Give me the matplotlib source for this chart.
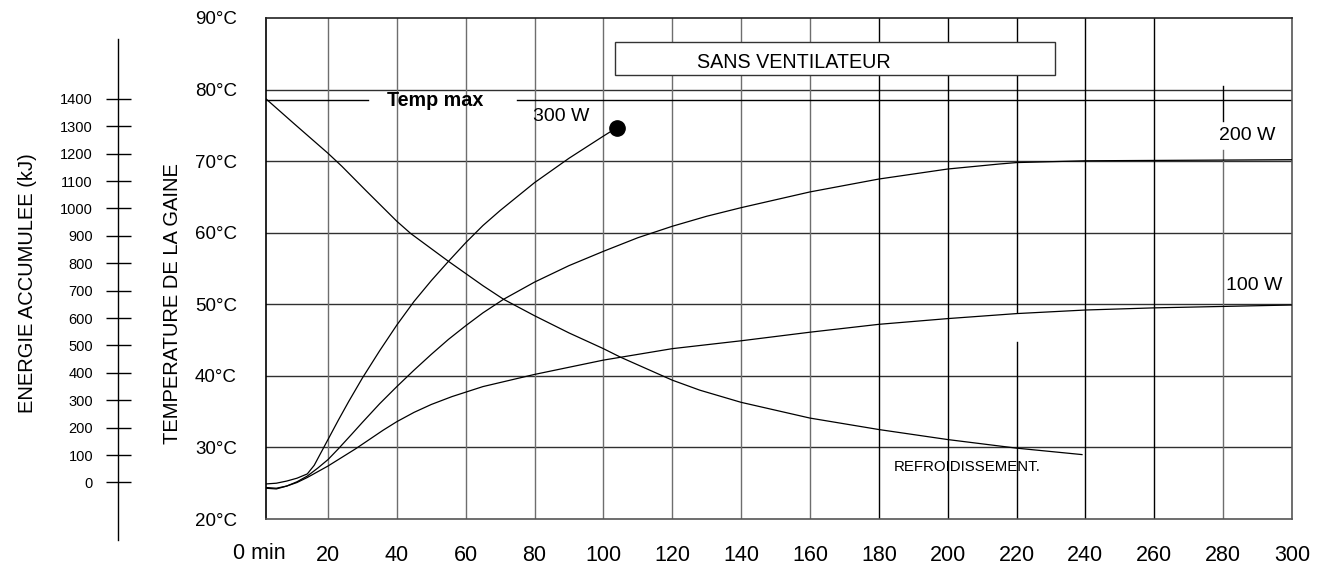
import matplotlib
matplotlib.use('Agg')
import matplotlib.pyplot as plt
from matplotlib.patches import Rectangle
import matplotlib.transforms as mtransforms

plt.rcParams['font.family'] = ['Liberation Sans', 'DejaVu Sans']

# --- data ---
time_300w = [2, 5, 8, 11, 14, 16, 18, 20, 23, 26, 30, 35, 40, 45, 50, 55, 60, 65, 70, 80, 90, 100, 104]
temp_300w = [24.9, 25.0, 25.3, 25.7, 26.3, 27.5, 29.3, 31.1, 33.8, 36.4, 39.7, 43.5, 47.1, 50.4, 53.3,
             56.0, 58.6, 61.0, 63.1, 67.0, 70.4, 73.5, 74.7]

time_200w = [2, 5, 8, 11, 14, 17, 20, 23, 27, 30, 35, 40, 45, 50, 55, 60, 65, 71, 80, 90, 100, 110,
             120, 130, 140, 160, 180, 200, 215, 220, 240, 260, 280, 300]
temp_200w = [24.4, 24.3, 24.6, 25.2, 26.0, 27.1, 28.3, 29.8, 31.9, 33.5, 36.1, 38.5, 40.8, 43.0, 45.1,
             47.0, 48.8, 50.7, 53.1, 55.4, 57.4, 59.3, 60.9, 62.3, 63.5, 65.7, 67.5, 68.9, 69.6, 69.8,
             70.05, 70.1, 70.15, 70.2]

time_100w = [2, 5, 8, 11, 14, 17, 20, 24, 28, 32, 36, 40, 45, 50, 56, 65, 80, 100, 120, 140, 160, 180,
             200, 220, 240, 260, 280, 300]
temp_100w = [24.3, 24.2, 24.6, 25.1, 25.8, 26.6, 27.4, 28.6, 29.8, 31.1, 32.4, 33.6, 34.9, 36.0, 37.1,
             38.5, 40.2, 42.2, 43.8, 44.9, 46.1, 47.2, 48.0, 48.7, 49.2, 49.5, 49.7, 49.9]

time_cool = [2, 10, 20, 24, 31, 40, 44, 55, 65, 71, 80, 90, 100, 105, 120, 128, 140, 160, 180, 200,
             215, 220, 239]
temp_cool = [78.7, 75.3, 71.1, 69.3, 65.9, 61.6, 59.9, 56.0, 52.6, 50.7, 48.4, 46.0, 43.8, 42.6, 39.4,
             38.0, 36.3, 34.1, 32.5, 31.1, 30.2, 29.9, 29.0]

x_ticks = [20, 40, 60, 80, 100, 120, 140, 160, 180, 200, 220, 240, 260, 280, 300]
y_ticks = [20, 30, 40, 50, 60, 70, 80, 90]
energy_ticks = [0, 100, 200, 300, 400, 500, 600, 700, 800, 900, 1000, 1100, 1200, 1300, 1400]

temp_max = 78.5
# energy scale calibration: 0 kJ and 1400 kJ sit at these temperatures
temp_at_0kj = 25.1
temp_at_1400kj = 78.7


def energy_of(t):
    return (t - temp_at_0kj) * 1400 / (temp_at_1400kj - temp_at_0kj)


W, H = 1317, 564
fig = plt.figure(figsize=(W / 100, H / 100), dpi=100)

ax_l, ax_r, ax_t, ax_b = 266, 1292, 18, 519
ax = fig.add_axes([ax_l / W, 1 - ax_b / H, (ax_r - ax_l) / W, (ax_b - ax_t) / H])
ax.set_xlim(2, 300)
ax.set_ylim(20, 90)

# grid: horizontal black, vertical mostly grey
for yv in y_ticks[1:-1]:
    ax.axhline(yv, color='#303030', lw=1.0, zorder=1)
black_cols = [180, 200, 240, 260]
for xv in x_ticks[:-1]:
    col = 'black' if xv in black_cols else '#6e6e6e'
    if xv == 220:
        ax.plot([xv, xv], [20, 44.8], color='black', lw=1.0, zorder=1)
        ax.plot([xv, xv], [48.9, 90], color='black', lw=1.0, zorder=1)
    elif xv == 280:
        ax.plot([xv, xv], [20, 71.5], color=col, lw=1.0, zorder=1)
        ax.plot([xv, xv], [75.6, 80.5], color='black', lw=1.0, zorder=1)
    else:
        ax.axvline(xv, color=col, lw=1.0, zorder=1)

# temp max line with gap for label
ax.plot([2, 31.6], [temp_max, temp_max], color='black', lw=1.0, zorder=2)
ax.plot([74.9, 300], [temp_max, temp_max], color='black', lw=1.0, zorder=2)
ax.text(51.2, temp_max, 'Temp max', ha='center', va='center', fontsize=14.2, fontweight='bold')

# curves
lw = 0.9
ax.plot(time_300w, temp_300w, color='black', lw=lw, zorder=3)
ax.plot(time_300w[-1], temp_300w[-1], 'o', color='black', markersize=11, zorder=4)
ax.plot(time_200w, temp_200w, color='black', lw=lw, zorder=3)
ax.plot(time_100w, temp_100w, color='black', lw=lw, zorder=3)
ax.plot(time_cool, temp_cool, color='black', lw=lw, zorder=3)

ax.text(87.7, 76.2, '300 W', ha='center', va='center', fontsize=14)
ax.text(287, 73.6, '200 W', ha='center', va='center', fontsize=14,
        bbox=dict(facecolor='white', edgecolor='none', pad=1))
ax.text(289, 52.6, '100 W', ha='center', va='center', fontsize=14)
ax.text(205.6, 27.3, 'REFROIDISSEMENT.', ha='center', va='center', fontsize=10.8)

# "SANS VENTILATEUR" box
ax.add_patch(Rectangle((103.3, 82.0), 127.8, 4.7, facecolor='white', edgecolor='#333333', lw=1.0, zorder=5))
ax.text(127.1, 83.85, 'SANS VENTILATEUR', ha='left', va='center', fontsize=14.2, zorder=6)

# axes frame and ticks
for side in ['top', 'right', 'bottom']:
    ax.spines[side].set_color('#555555')
    ax.spines[side].set_linewidth(1.2)
ax.spines['top'].set_color('#222222')
ax.spines['left'].set_color('black')
ax.spines['left'].set_linewidth(1.2)

ax.set_xticks(x_ticks)
ax.set_xticklabels([str(v) for v in x_ticks])
ax.set_yticks(y_ticks)
ax.set_yticklabels([f'{v}°C' for v in y_ticks])
ax.tick_params(axis='both', length=0)
ax.tick_params(axis='x', pad=19, labelsize=15.5)
ax.tick_params(axis='y', pad=21, labelsize=13.5)
ax.text(0, -0.068, '0 min', transform=mtransforms.blended_transform_factory(ax.transData, ax.transAxes),
        ha='center', va='center', fontsize=15.5, clip_on=False)

# energy axis on the far left
ppc = (ax_b - ax_t) / 70.0
e_top_t, e_bot_t = 87.0, 17.1
e_top_px = ax_b - (e_top_t - 20) * ppc
e_bot_px = ax_b + (20 - e_bot_t) * ppc
ax_e = fig.add_axes([118 / W, 1 - e_bot_px / H, 0.0001, (e_bot_px - e_top_px) / H])
ax_e.set_ylim(energy_of(e_bot_t), energy_of(e_top_t))
ax_e.patch.set_visible(False)
for side in ['top', 'right', 'bottom']:
    ax_e.spines[side].set_visible(False)
ax_e.spines['left'].set_linewidth(1.0)
ax_e.set_xticks([])
ax_e.set_yticks(energy_ticks)
ax_e.set_yticklabels([str(v) for v in energy_ticks])
ax_e.tick_params(axis='y', direction='inout', length=18, width=1.0, labelsize=10.5, pad=9)

fig.text(28 / W, 1 - 283 / H, 'ENERGIE ACCUMULEE (kJ)', rotation=90, ha='center', va='center', fontsize=14.5)
fig.text(172 / W, 1 - 304 / H, 'TEMPERATURE DE LA GAINE', rotation=90, ha='center', va='center', fontsize=14.5)

fig.savefig('out.png', dpi=100)
